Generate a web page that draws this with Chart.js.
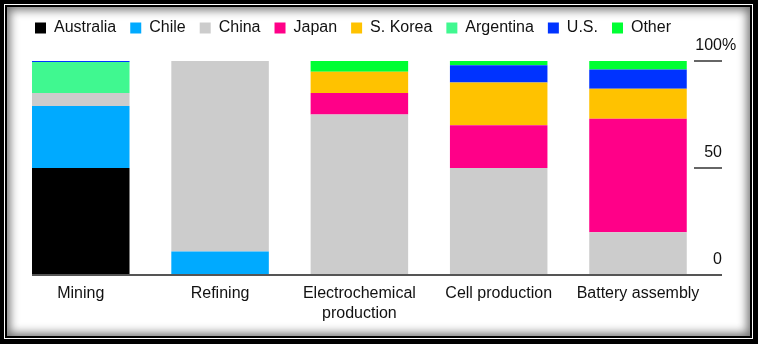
<!DOCTYPE html>
<html>
<head>
<meta charset="utf-8">
<script src="https://cdn.jsdelivr.net/npm/chart.js@4.4.1/dist/chart.umd.min.js"></script>
<style>
  html, body { margin: 0; padding: 0; background: #000; }
  #wrap { position: relative; width: 758px; height: 344px; overflow: hidden; background: #000; }
  #frame { position: absolute; left: 4px; top: 4px; width: 749px; height: 335px; box-sizing: border-box; border: 1px solid #fff; background: #000; }
  #inner { position: absolute; left: 2px; top: 2px; right: 2px; bottom: 2px; background: #fff; box-shadow: inset 0 0 10px 3px rgba(0,0,0,0.55); }
  canvas { position: absolute; left: 0; top: 0; }
</style>
</head>
<body>
<div id="wrap">
  <div id="frame"><div id="inner"></div></div>
  <canvas id="chart" width="758" height="344"></canvas>
</div>
<script>
// stages of the supply chain (x axis)
const stages = ['Mining', 'Refining', ['Electrochemical', 'production'], 'Cell production', 'Battery assembly']

// share of each stage, %
const australia = [50, 0, 0, 0, 0]
const chile     = [29, 11, 0, 0, 0]
const china     = [6, 89, 75, 50, 20]
const japan     = [0, 0, 10, 20, 53]
const korea     = [0, 0, 10, 20, 14]
const argentina = [14.5, 0, 0, 0, 0]
const us        = [0.5, 0, 0, 8, 9]
const other     = [0, 0, 5, 2, 4]

const countries = ['Australia', 'Chile', 'China', 'Japan', 'S. Korea', 'Argentina', 'U.S.', 'Other']
const series = [australia, chile, china, japan, korea, argentina, us, other]
const colours = ['#000000', '#00aaff', '#cccccc', '#ff0088', '#ffc200', '#40f890', '#0033ff', '#00ff33']

const yTicks = [0, 50, 100]

const font = '"Liberation Sans", Arial, sans-serif'

// push the plot down below the legend
const legendGap = {
    id: 'legendGap',
    beforeInit(chart) {
        const fit = chart.legend.fit
        chart.legend.fit = function () {
            fit.bind(chart.legend)()
            this.height += 15
        }
    }
}

// baseline plus the right-hand value ticks, labels sitting above their lines
const axisMarks = {
    id: 'axisMarks',
    afterDatasetsDraw(chart) {
        const { ctx, chartArea, scales: { y } } = chart
        const bar = chart.getDatasetMeta(0).data[0].getProps(['x', 'width'], true)
        const left = bar.x - bar.width / 2
        const right = chartArea.right

        ctx.save()
        ctx.strokeStyle = '#555'
        ctx.lineWidth = 2
        ctx.beginPath()
        ctx.moveTo(left, y.getPixelForValue(0))
        ctx.lineTo(right, y.getPixelForValue(0))
        ctx.stroke()

        ctx.strokeStyle = '#333'
        ctx.lineWidth = 1.5
        ctx.font = '16px ' + font
        ctx.fillStyle = '#111'
        ctx.textBaseline = 'middle'
        yTicks.forEach(v => {
            const py = y.getPixelForValue(v)
            if (v > 0) {
                ctx.beginPath()
                ctx.moveTo(right - 28, py)
                ctx.lineTo(right, py)
                ctx.stroke()
            }
            ctx.textAlign = 'right'
            ctx.fillText(String(v), right, py - 15.5)
            if (v === 100) {
                ctx.textAlign = 'left'
                ctx.fillText('%', right, py - 15.5)
            }
        })
        ctx.restore()
    }
}

new Chart(document.getElementById('chart'), {
    type: 'bar',
    data: {
        datasets: countries.map((name, i) => ({
            label: name,
            data: series[i].map((v, j) => ({ x: j, y: v })),
            backgroundColor: colours[i],
            borderWidth: 0,
            barPercentage: 0.7,
            categoryPercentage: 1
        }))
    },
    options: {
        responsive: false,
        animation: false,
        devicePixelRatio: 1,
        layout: { padding: { top: 6, left: 21, right: 36, bottom: 11 } },
        plugins: {
            legend: {
                position: 'top',
                align: 'start',
                labels: {
                    boxWidth: 11,
                    boxHeight: 11,
                    padding: 14,
                    color: '#111',
                    font: { family: font, size: 16 }
                }
            },
            tooltip: { enabled: false }
        },
        scales: {
            x: {
                type: 'linear',
                stacked: true,
                offset: false,
                min: -0.429,
                max: 4.603,
                grid: { display: false, drawTicks: false },
                border: { display: false },
                ticks: {
                    stepSize: 1,
                    autoSkip: false,
                    includeBounds: false,
                    maxRotation: 0,
                    padding: 9,
                    color: '#111',
                    font: { family: font, size: 16, lineHeight: 1.25 },
                    callback: v => Number.isInteger(v) ? stages[v] : ''
                }
            },
            y: {
                type: 'linear',
                stacked: true,
                min: 0,
                max: 100,
                display: false
            }
        }
    },
    plugins: [legendGap, axisMarks]
})
</script>
</body>
</html>
